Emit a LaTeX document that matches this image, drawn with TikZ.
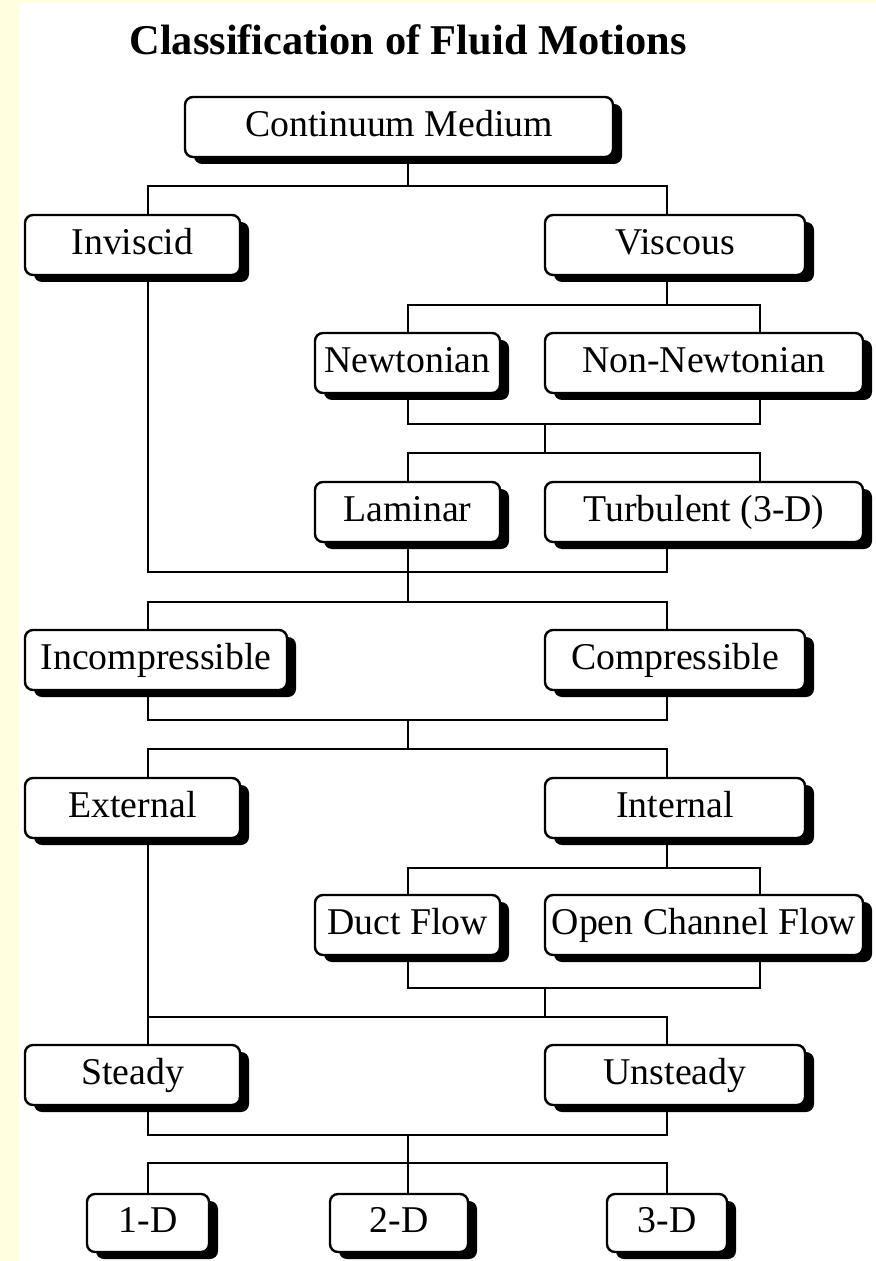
\documentclass[tikz,border=0pt]{standalone}
\usepackage{fontspec}
\setmainfont{Liberation Serif}
\usetikzlibrary{shadows}
\definecolor{cream}{RGB}{255,255,224}
\newcommand\lblfont{\fontsize{18.9}{22}\selectfont}
\newcommand\ttlfont{\fontsize{21.2}{25}\selectfont\bfseries}
\tikzset{
  box/.style={draw=black, line width=1.2pt, fill=white, rounded corners=4pt,
    inner sep=0pt, minimum height=30pt, text height=12.5pt, text depth=3pt,
    font=\lblfont,
    drop shadow={shadow xshift=4.5pt, shadow yshift=-3.5pt, fill=black, opacity=1}},
  wire/.style={draw=black, line width=1.1pt}
}
\begin{document}
\begin{tikzpicture}[x=0.5pt, y=-0.5pt]
  % page background
  \fill[white] (0,0) rectangle (876,1261);
  \fill[cream] (0,0) rectangle (19,1261);
  \fill[cream] (0,0) rectangle (876,3);
  \useasboundingbox (0,0) rectangle (876,1261);

  % connector columns
  \coordinate (colA) at (148,0);
  \coordinate (colB) at (408,0);
  \coordinate (colC) at (545,0);
  \coordinate (colD) at (667,0);
  \coordinate (colE) at (760,0);

  % horizontal bus levels
  \coordinate (bus1) at (0,186);
  \coordinate (bus2) at (0,572);
  \coordinate (bus3) at (0,602);
  \coordinate (bus4) at (0,305);
  \coordinate (bus5) at (0,424);
  \coordinate (bus6) at (0,453);
  \coordinate (bus7) at (0,720);
  \coordinate (bus8) at (0,749);
  \coordinate (bus9) at (0,868);
  \coordinate (bus10) at (0,988);
  \coordinate (bus11) at (0,1017);
  \coordinate (bus12) at (0,1135);
  \coordinate (bus13) at (0,1163);

  % title
  \node[font=\ttlfont, anchor=base] (title) at (408,55) {Classification of Fluid Motions};

  % boxes
  \node[box, minimum width=214pt] (cm) at (399,127) {Continuum Medium};
  \node[box, minimum width=107.5pt] (inv) at (132.5,245) {Inviscid};
  \node[box, minimum width=130pt] (visc) at (675,245) {Viscous};
  \node[box, minimum width=92.5pt] (newt) at (407.5,363) {Newtonian};
  \node[box, minimum width=159pt] (nonn) at (704,363) {Non-Newtonian};
  \node[box, minimum width=92.5pt] (lam) at (407.5,512) {Laminar};
  \node[box, minimum width=159pt] (turb) at (704,512) {Turbulent (3-D)};
  \node[box, minimum width=131pt] (incomp) at (156,660) {Incompressible};
  \node[box, minimum width=130pt] (comp) at (675,660) {Compressible};
  \node[box, minimum width=107.5pt] (ext) at (132.5,808) {External};
  \node[box, minimum width=130pt] (int) at (675,808) {Internal};
  \node[box, minimum width=92.5pt] (duct) at (407.5,925) {Duct Flow};
  \node[box, minimum width=159pt] (open) at (704,925) {Open Channel Flow};
  \node[box, minimum width=107.5pt] (steady) at (132.5,1075) {Steady};
  \node[box, minimum width=130pt] (unsteady) at (675,1075) {Unsteady};
  \node[box, minimum width=61pt, minimum height=29pt] (d1) at (148,1223) {1-D};
  \node[box, minimum width=69pt, minimum height=29pt] (d2) at (399,1223) {2-D};
  \node[box, minimum width=60pt, minimum height=29pt] (d3) at (667,1223) {3-D};

  % continuum -> inviscid / viscous
  \draw[wire] (cm.south -| colB) -- (colB |- bus1);
  \draw[wire] (inv.north -| colA) -- (colA |- bus1) -- (colD |- bus1) -- (visc.north -| colD);

  % viscous -> newtonian / non-newtonian
  \draw[wire] (visc.south -| colD) -- (colD |- bus4);
  \draw[wire] (newt.north -| colB) -- (colB |- bus4) -- (colE |- bus4) -- (nonn.north -| colE);

  % newtonian / non-newtonian -> laminar / turbulent
  \draw[wire] (newt.south -| colB) -- (colB |- bus5) -- (colE |- bus5) -- (nonn.south -| colE);
  \draw[wire] (colC |- bus5) -- (colC |- bus6);
  \draw[wire] (lam.north -| colB) -- (colB |- bus6) -- (colE |- bus6) -- (turb.north -| colE);

  % inviscid, laminar, turbulent -> compressibility
  \draw[wire] (inv.south -| colA) -- (colA |- bus2) -- (colD |- bus2) -- (turb.south -| colD);
  \draw[wire] (lam.south -| colB) -- (colB |- bus3);
  \draw[wire] (incomp.north -| colA) -- (colA |- bus3) -- (colD |- bus3) -- (comp.north -| colD);

  % compressibility -> external / internal
  \draw[wire] (incomp.south -| colA) -- (colA |- bus7) -- (colD |- bus7) -- (comp.south -| colD);
  \draw[wire] (colB |- bus7) -- (colB |- bus8);
  \draw[wire] (ext.north -| colA) -- (colA |- bus8) -- (colD |- bus8) -- (int.north -| colD);

  % internal -> duct / open channel
  \draw[wire] (int.south -| colD) -- (colD |- bus9);
  \draw[wire] (duct.north -| colB) -- (colB |- bus9) -- (colE |- bus9) -- (open.north -| colE);
  \draw[wire] (duct.south -| colB) -- (colB |- bus10) -- (colE |- bus10) -- (open.south -| colE);
  \draw[wire] (colC |- bus10) -- (colC |- bus11);

  % external, internal flows -> steady / unsteady
  \draw[wire] (ext.south -| colA) -- (colA |- bus11);
  \draw[wire] (steady.north -| colA) -- (colA |- bus11) -- (colD |- bus11) -- (unsteady.north -| colD);

  % steady / unsteady -> dimensions
  \draw[wire] (steady.south -| colA) -- (colA |- bus12) -- (colD |- bus12) -- (unsteady.south -| colD);
  \draw[wire] (colB |- bus12) -- (colB |- bus13);
  \draw[wire] (d1.north -| colA) -- (colA |- bus13) -- (colD |- bus13) -- (d3.north -| colD);
  \draw[wire] (d2.north -| colB) -- (colB |- bus13);
\end{tikzpicture}
\end{document}
